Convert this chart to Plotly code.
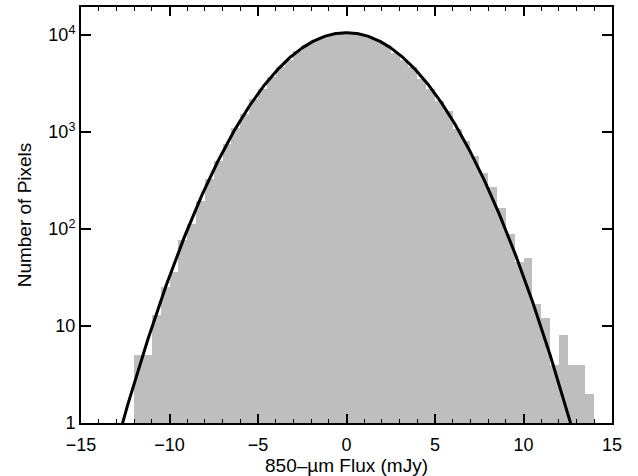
import numpy as np
import plotly.graph_objects as go

# Histogram bins (left edges, width 0.5 mJy) and pixel counts
bin_left = [-12.0 + 0.5 * i for i in range(52)]
counts = [5, 5, 13, 25, 36, 78, 112, 194, 327, 507,
          750, 1094, 1535, 2170, 2810, 3710, 4730, 5600, 6800, 7880,
          8850, 9660, 10230, 10520, 10520, 10230, 9660, 8850, 7880, 6600,
          5550, 4700, 3560, 2810, 2090, 1660, 1080, 800, 561, 378,
          270, 165, 90, 46, 50, 17, 12, 4, 8, 4,
          4, 2]
bin_width = 0.5

# Gaussian model curve parameters
gauss_amp = 10600.0
gauss_mu = 0.0
gauss_sigma = 2.94

x_ticks = [-15, -10, -5, 0, 5, 10, 15]
y_ticks = [1, 10, 100, 1000, 10000]
y_ticktext = ["1", "10", "10<sup>2</sup>", "10<sup>3</sup>", "10<sup>4</sup>"]

centers = [b + bin_width / 2 for b in bin_left]
xc = np.linspace(-13.5, 13.5, 600)
yc = gauss_amp * np.exp(-(xc - gauss_mu) ** 2 / (2 * gauss_sigma ** 2))

fig = go.Figure()
fig.add_trace(go.Bar(x=centers, y=counts, width=bin_width,
                     marker=dict(color="#bebebe", line=dict(width=0)),
                     showlegend=False))
fig.add_trace(go.Scatter(x=xc, y=yc, mode="lines",
                         line=dict(color="black", width=3), showlegend=False))

font = dict(family="Liberation Sans, Arial, Helvetica, sans-serif", size=18, color="black")
title_font = dict(family="Liberation Sans, Arial, Helvetica, sans-serif", size=19, color="black")

fig.update_layout(
    width=638, height=476,
    margin=dict(l=81, r=26, t=5, b=53),
    plot_bgcolor="white", paper_bgcolor="white",
    bargap=0, font=font,
)
fig.update_xaxes(
    range=[-15, 15], tickvals=x_ticks, ticks="inside", ticklen=9, tickwidth=1.5,
    tickcolor="black", showline=True, linecolor="black", linewidth=2,
    mirror="allticks", showgrid=False, zeroline=False,
    minor=dict(dtick=1, ticks="inside", ticklen=4, tickwidth=1.3, tickcolor="black", showgrid=False),
    ticklabelstandoff=4,
    title=dict(text="850\u2013\u00b5m Flux (mJy)", standoff=0, font=title_font),
    tickfont=font,
)
fig.update_yaxes(
    type="log", range=[0, 4.29], tickvals=y_ticks, ticktext=y_ticktext,
    ticks="inside", ticklen=10, tickwidth=1.5, tickcolor="black",
    showline=True, linecolor="black", linewidth=2, mirror="allticks",
    showgrid=False, zeroline=False,
    title=dict(text="Number of Pixels", standoff=12, font=title_font),
    tickfont=font,
)

fig.write_html("out.html")
